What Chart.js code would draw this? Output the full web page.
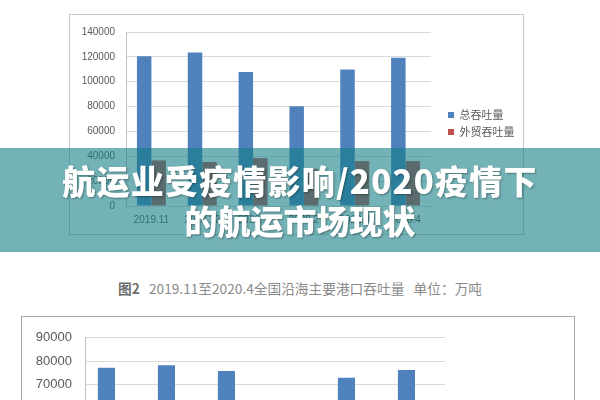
<!DOCTYPE html>
<html>
<head>
<meta charset="utf-8">
<script src="https://cdn.jsdelivr.net/npm/chart.js@4"></script>
<style>
  html, body { margin: 0; width: 600px; height: 400px; overflow: hidden; background: #fff; }
  body { position: relative; font-family: "Noto Sans CJK SC", "Liberation Sans", sans-serif; }
  .box { position: absolute; background: #fff; }
  #box1 { left: 69px; top: 14px; width: 453px; height: 219px; border: 1px solid #c8c8c8; }
  #box2 { left: 21px; top: 316px; width: 552px; height: 270px; border: 1px solid #a6a6a6; }
  .box canvas { display: block; }
  #caption { position: absolute; left: 0; top: 279px; width: 600px; text-align: center;
    font-size: 13.7px; line-height: 18px; color: #8a8a8a; white-space: pre; }
  #caption b { color: #6e6e6e; }
  #banner { position: absolute; left: 0; top: 148px; width: 600px; height: 104px;
    background: rgba(22, 127, 133, 0.6); box-sizing: border-box; padding-top: 12px;
    text-align: center; color: #fff; font-size: 33px; font-weight: 900; line-height: 40px;
    text-shadow: 1px 1px 2px rgba(0,0,0,0.35); }
  #banner .l1 { letter-spacing: 1.2px; }
</style>
</head>
<body>
<div class="box" id="box1"><canvas id="chart1" width="453" height="219"></canvas></div>
<div id="caption"><b>图2</b>   2019.11至2020.4全国沿海主要港口吞吐量   单位：万吨</div>
<div class="box" id="box2"><canvas id="chart2" width="552" height="270"></canvas></div>
<div id="banner"><span class="l1">航运业受疫情影响/2020疫情下</span><br>的航运市场现状</div>

<script>
const months = ['2019.11', '2019.12', '2020.1', '2020.2', '2020.3', '2020.4'];
const seriesNames = ['总吞吐量', '外贸吞吐量'];

// 全国港口
const totalAll = [120500, 123600, 107900, 80200, 109800, 119200];
const foreignAll = [36700, 35400, 38500, 30000, 36100, 36100];

// 沿海港口
const totalCoast = [77200, 78300, 75800, 54000, 72900, 76200];
const foreignCoast = [33000, 32500, 34500, 27000, 32000, 32500];

const blue = '#4f81bd';
const red = '#c0504d';
const grid = '#d9d9d9';
const tickColor = '#595959';

Chart.defaults.animation = false;
Chart.defaults.font.family = '"Liberation Sans", "Noto Sans CJK SC", sans-serif';

const plain = v => String(v);

// puts the right-hand legend where the original has it
const legendSpot = {
  id: 'legendSpot',
  beforeInit(chart) {
    const fit = chart.legend.fit;
    chart.legend.fit = function () {
      fit.call(this);
      this.width = 92;
    };
  },
  afterLayout(chart) {
    chart.legend.left = 372;
    chart.legend.top = 88.5;
  }
};

new Chart(document.getElementById('chart1'), {
  type: 'bar',
  data: {
    labels: months,
    datasets: [
      { label: seriesNames[0], data: totalAll, backgroundColor: blue },
      { label: seriesNames[1], data: foreignAll, backgroundColor: red }
    ]
  },
  options: {
    responsive: false,
    devicePixelRatio: 1,
    categoryPercentage: 0.57,
    barPercentage: 1,
    layout: { padding: { top: 9, right: 0, bottom: 0, left: 0 } },
    plugins: {
      legend: {
        position: 'right',
        align: 'start',
        labels: { boxWidth: 6, boxHeight: 6, padding: 6, color: '#595959',
          font: { size: 11, family: '"Noto Sans CJK SC", sans-serif' } }
      },
      tooltip: { enabled: false }
    },
    scales: {
      x: {
        grid: { display: true, drawOnChartArea: false, color: grid, tickLength: 4 },
        border: { color: grid },
        ticks: { color: tickColor, font: { size: 10 }, padding: 4, maxRotation: 0 },
        afterFit(scale) { scale.height = 28; }
      },
      y: {
        min: 0, max: 140000,
        grid: { color: grid, drawTicks: false },
        border: { color: '#bfbfbf' },
        ticks: { stepSize: 20000, color: tickColor, font: { size: 10 }, padding: 11, callback: plain },
        afterFit(scale) { scale.width = 56; }
      }
    }
  },
  plugins: [legendSpot]
});

new Chart(document.getElementById('chart2'), {
  type: 'bar',
  data: {
    labels: months,
    datasets: [
      { label: seriesNames[0], data: totalCoast, backgroundColor: blue },
      { label: seriesNames[1], data: foreignCoast, backgroundColor: red }
    ]
  },
  options: {
    responsive: false,
    devicePixelRatio: 1,
    categoryPercentage: 0.57,
    barPercentage: 1,
    layout: { padding: { top: 15, right: 129, bottom: 0, left: 0 } },
    plugins: { legend: { display: false }, tooltip: { enabled: false } },
    scales: {
      x: {
        grid: { display: true, drawOnChartArea: false, color: grid, tickLength: 5 },
        border: { color: grid },
        ticks: { color: tickColor, font: { size: 13 }, padding: 4, maxRotation: 0 },
        afterFit(scale) { scale.height = 39; }
      },
      y: {
        min: 0, max: 90000,
        grid: { color: grid, drawTicks: false },
        border: { color: '#bfbfbf' },
        ticks: { stepSize: 10000, color: tickColor, font: { size: 13 }, padding: 13, callback: plain },
        afterFit(scale) { scale.width = 63; }
      }
    }
  }
});
</script>
</body>
</html>
